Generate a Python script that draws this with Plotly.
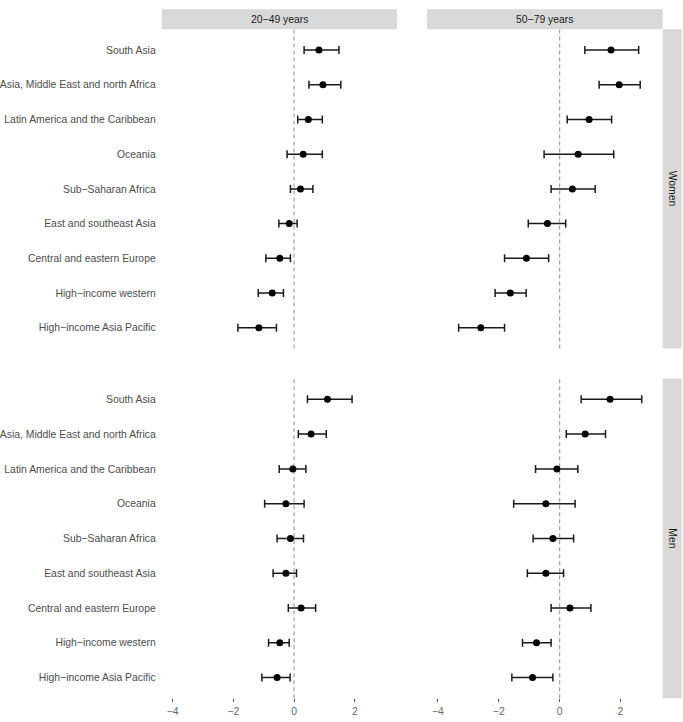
import plotly.graph_objects as go

regions = ["South Asia", "Central Asia, Middle East and north Africa",
           "Latin America and the Caribbean", "Oceania", "Sub\u2212Saharan Africa",
           "East and southeast Asia", "Central and eastern Europe",
           "High\u2212income western", "High\u2212income Asia Pacific"]

age_groups = ["20\u221249 years", "50\u221279 years"]
sexes = ["Women", "Men"]

women_20_49_est = [0.82, 0.95, 0.47, 0.30, 0.21, -0.16, -0.47, -0.72, -1.16]
women_20_49_lo = [0.33, 0.49, 0.12, -0.23, -0.12, -0.50, -0.93, -1.18, -1.85]
women_20_49_hi = [1.48, 1.54, 0.93, 0.93, 0.62, 0.10, -0.12, -0.35, -0.58]

women_50_79_est = [1.69, 1.96, 0.97, 0.61, 0.42, -0.40, -1.09, -1.62, -2.59]
women_50_79_lo = [0.83, 1.30, 0.25, -0.51, -0.28, -1.03, -1.81, -2.12, -3.32]
women_50_79_hi = [2.60, 2.65, 1.71, 1.78, 1.17, 0.20, -0.36, -1.10, -1.81]

men_20_49_est = [1.10, 0.56, -0.04, -0.27, -0.12, -0.27, 0.23, -0.47, -0.56]
men_20_49_lo = [0.44, 0.14, -0.49, -0.97, -0.56, -0.69, -0.19, -0.84, -1.06]
men_20_49_hi = [1.91, 1.06, 0.39, 0.33, 0.31, 0.08, 0.71, -0.16, -0.13]

men_50_79_est = [1.66, 0.84, -0.09, -0.45, -0.22, -0.45, 0.34, -0.76, -0.89]
men_50_79_lo = [0.71, 0.22, -0.79, -1.51, -0.87, -1.06, -0.28, -1.22, -1.57]
men_50_79_hi = [2.70, 1.51, 0.60, 0.51, 0.46, 0.13, 1.03, -0.28, -0.22]

x_tickvals = [-4, -2, 0, 2]
x_ticktext = ["\u22124", "\u22122", "0", "2"]

W, H = 683, 722
FONT = "Liberation Sans, Arial, sans-serif"
FS = 10.4

panels = [
    ("", women_20_49_est, women_20_49_lo, women_20_49_hi),
    ("2", women_50_79_est, women_50_79_lo, women_50_79_hi),
    ("3", men_20_49_est, men_20_49_lo, men_20_49_hi),
    ("4", men_50_79_est, men_50_79_lo, men_50_79_hi),
]

xdom = [[161.7 / W, 397 / W], [427 / W, 662.7 / W]]
ydom = [[1 - 348.5 / H, 1 - 29.3 / H], [1 - 698.3 / H, 1 - 378.5 / H]]

fig = go.Figure()
for i, (suf, est, lo, hi) in enumerate(panels):
    plus = [h - e for h, e in zip(hi, est)]
    minus = [e - l for e, l in zip(est, lo)]
    fig.add_trace(go.Scatter(
        x=est, y=regions, mode="markers",
        xaxis="x" + suf, yaxis="y" + suf,
        marker=dict(color="black", size=7),
        error_x=dict(type="data", array=plus, arrayminus=minus, symmetric=False,
                     color="#1a1a1a", thickness=1.5, width=4),
        showlegend=False, hoverinfo="x+y",
    ))

layout = dict(
    width=W, height=H,
    margin=dict(l=0, r=0, t=0, b=0),
    paper_bgcolor="white", plot_bgcolor="white",
    font=dict(family=FONT, size=FS, color="#4d4d4d"),
    shapes=[], annotations=[],
)

cat_order = list(reversed(regions))
for i, (suf, *_rest) in enumerate(panels):
    row, col = divmod(i, 2)
    xa = dict(domain=xdom[col], range=[-4.36, 3.39], anchor="y" + suf,
              showgrid=False, zeroline=False, showline=False,
              tickvals=x_tickvals, ticktext=x_ticktext,
              ticks="outside" if row == 1 else "", ticklen=3, tickcolor="#555555",
              tickwidth=1, showticklabels=(row == 1),
              tickfont=dict(family=FONT, size=FS, color="#666666"))
    ya = dict(domain=ydom[row], anchor="x" + suf, type="category",
              categoryorder="array", categoryarray=cat_order,
              range=[-0.6, 8.6], showgrid=False, zeroline=False, showline=False,
              ticks="", showticklabels=(col == 0), automargin=False,
              ticklabelstandoff=5,
              tickfont=dict(family=FONT, size=FS, color="#4d4d4d"))
    layout["xaxis" + suf] = xa
    layout["yaxis" + suf] = ya
    layout["shapes"].append(dict(
        type="line", xref="x" + suf, yref="y" + suf + " domain",
        x0=0, x1=0, y0=0, y1=1, layer="below",
        line=dict(color="#a0a0a0", width=1.2, dash="4px,3px")))

strip_top = [1 - 29.3 / H, 1 - 9.3 / H]
for col, lab in enumerate(age_groups):
    layout["shapes"].append(dict(
        type="rect", xref="paper", yref="paper",
        x0=xdom[col][0], x1=xdom[col][1], y0=strip_top[0], y1=strip_top[1],
        fillcolor="#d9d9d9", line=dict(width=0), layer="below"))
    layout["annotations"].append(dict(
        xref="paper", yref="paper", x=(xdom[col][0] + xdom[col][1]) / 2,
        y=(strip_top[0] + strip_top[1]) / 2, text=lab, showarrow=False,
        xanchor="center", yanchor="middle",
        font=dict(family=FONT, size=FS, color="#1a1a1a")))

strip_right = [662.7 / W, 681.7 / W]
for row, lab in enumerate(sexes):
    layout["shapes"].append(dict(
        type="rect", xref="paper", yref="paper",
        x0=strip_right[0], x1=strip_right[1], y0=ydom[row][0], y1=ydom[row][1],
        fillcolor="#d9d9d9", line=dict(width=0), layer="below"))
    layout["annotations"].append(dict(
        xref="paper", yref="paper", x=(strip_right[0] + strip_right[1]) / 2,
        y=(ydom[row][0] + ydom[row][1]) / 2, text=lab, showarrow=False,
        textangle=90, xanchor="center", yanchor="middle",
        font=dict(family=FONT, size=FS, color="#1a1a1a")))

fig.update_layout(**layout)
fig.write_html("out.html")
